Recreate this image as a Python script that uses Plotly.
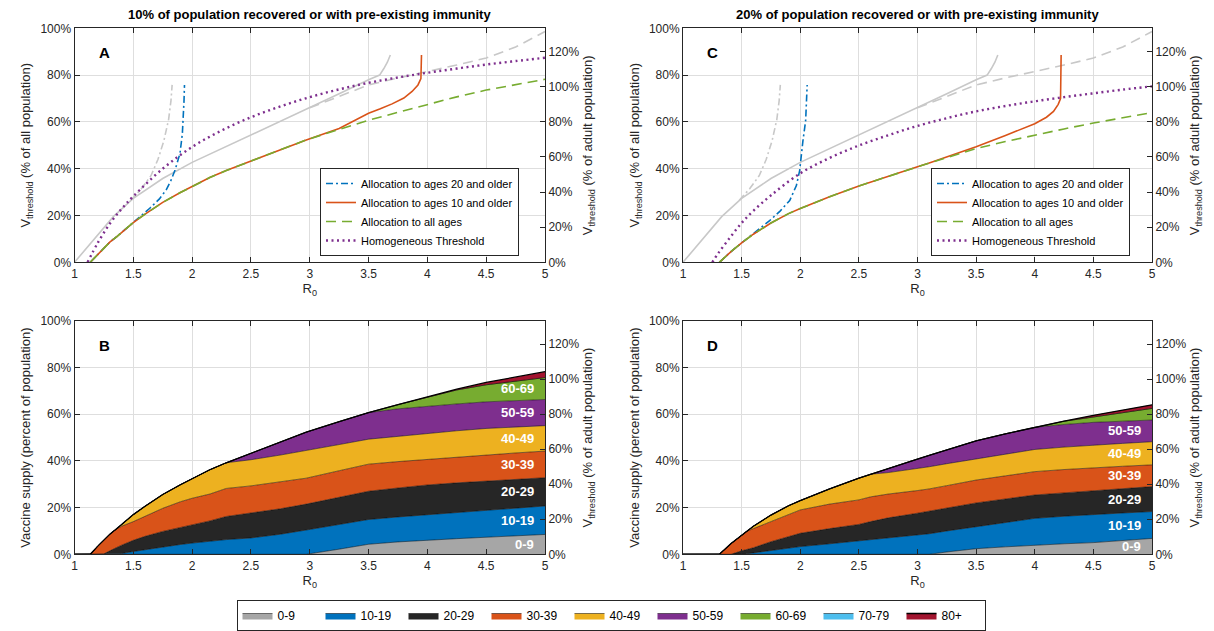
import plotly.graph_objects as go

# The page adds an 8 px body margin, so the figure is drawn 8 px smaller and
# every reference pixel position is shifted by OFF.
OFF = 8
W, H = 1214 - OFF, 631 - OFF
FONT = "Liberation Sans, Arial, Helvetica, sans-serif"
AX = "#262626"
GRID = "#dedede"
LIGHT = "#c8c8c8"

# ---------------- data ----------------
R0_TICKS = [1, 1.5, 2, 2.5, 3, 3.5, 4, 4.5, 5]
LEFT_TICKS = [0, 20, 40, 60, 80, 100]
RIGHT_TICKS = [0, 20, 40, 60, 80, 100, 120]
RIGHT_MAX = 133.3  # % of adult population that matches 100% of all population

TITLE_A = "10% of population recovered or with pre-existing immunity"
TITLE_C = "20% of population recovered or with pre-existing immunity"
AGE_GROUPS = ["0-9", "10-19", "20-29", "30-39", "40-49", "50-59", "60-69", "70-79", "80+"]
AGE_COLORS = ["#a6a6a6", "#0072bd", "#262626", "#d95319", "#edb120",
              "#7e2f8e", "#77ac30", "#4dbeee", "#a2142f"]
LABELED_B = ["0-9", "10-19", "20-29", "30-39", "40-49", "50-59", "60-69"]
LABELED_D = ["0-9", "10-19", "20-29", "30-39", "40-49", "50-59"]

# reference curves (no prior immunity), light grey, same in A and C
grey_solid_r0 = [1.0, 1.1, 1.2, 1.33, 1.5, 1.75, 2.0, 2.25, 2.5, 2.75, 3.0, 3.25, 3.5, 3.594, 3.63, 3.66, 3.685]
grey_solid_v = [0, 6.0, 11.8, 19.5, 27.3, 35.8, 42.7, 48.5, 54.5, 60.3, 66.0, 72.0, 78.0, 80.0, 82.8, 85.5, 88.6]
grey_dash_r0 = [3.0, 3.25, 3.5, 3.75, 4.0, 4.25, 4.5, 4.75, 5.0]
grey_dash_v = [66.0, 71.0, 75.8, 78.8, 81.5, 84.3, 87.3, 92.0, 98.6]
grey_dashdot_r0 = [1.48, 1.57, 1.65, 1.71, 1.76, 1.80, 1.82, 1.83]
grey_dashdot_v = [26.5, 31.5, 37.0, 44.0, 52.0, 61.0, 69.0, 75.8]

# Panel A (10% immune)
A_blue_r0 = [1.134, 1.2, 1.25, 1.3, 1.36, 1.4, 1.5, 1.55, 1.64, 1.72, 1.78, 1.82, 1.855, 1.897, 1.917, 1.931, 1.935]
A_blue_v = [0, 3.6, 6.2, 8.6, 11.0, 12.7, 17.0, 18.9, 23.1, 27.0, 31.0, 35.0, 39.4, 46.6, 55.0, 69.0, 75.8]
A_red_r0 = [1.134, 1.2, 1.25, 1.3, 1.36, 1.4, 1.5, 1.6, 1.75, 1.9, 2.0, 2.15, 2.29, 2.5, 2.75, 2.97,
            3.25, 3.5, 3.6, 3.7, 3.8, 3.87, 3.92, 3.945, 3.95]
A_red_v = [0, 3.6, 6.2, 8.6, 11.0, 12.7, 17.0, 20.6, 25.6, 29.8, 32.5, 36.2, 39.2, 43.3, 48.2, 52.3,
           57.2, 63.7, 65.6, 67.7, 70.2, 73.0, 75.8, 78.5, 88.6]
A_green_r0 = [1.134, 1.2, 1.25, 1.3, 1.36, 1.4, 1.5, 1.6, 1.75, 1.9, 2.0, 2.15, 2.29, 2.5, 2.75, 2.97,
              3.25, 3.5, 3.75, 4.0, 4.25, 4.5, 4.75, 5.0]
A_green_v = [0, 3.6, 6.2, 8.6, 11.0, 12.7, 17.0, 20.6, 25.6, 29.8, 32.5, 36.2, 39.2, 43.3, 48.2, 52.3,
             56.8, 60.7, 64.1, 67.4, 70.7, 73.6, 76.0, 78.2]
A_purple_r0 = [1.111, 1.2, 1.3, 1.4, 1.5, 1.75, 2.0, 2.25, 2.5, 2.75, 3.0, 3.25, 3.5, 3.75, 4.0, 4.25, 4.5, 4.75, 5.0]
A_purple_v = [0, 8.5, 16.5, 22.8, 28.2, 40.0, 49.3, 56.3, 62.0, 66.6, 70.6, 73.9, 76.7, 79.0, 81.0, 82.8, 84.5, 86.0, 87.4]

# Panel C (20% immune)
C_blue_r0 = [1.31, 1.41, 1.5, 1.554, 1.65, 1.739, 1.83, 1.91, 1.967, 1.995, 2.023, 2.046, 2.059]
C_blue_v = [0, 4.6, 8.3, 10.4, 14.2, 17.8, 22.0, 26.4, 32.8, 39.2, 52.0, 60.5, 75.8]
C_red_r0 = [1.31, 1.41, 1.5, 1.54, 1.6, 1.75, 1.9, 2.0, 2.25, 2.5, 2.6, 2.75, 3.0, 3.1,
            3.25, 3.5, 3.75, 4.0, 4.1, 4.16, 4.2, 4.22, 4.225]
C_red_v = [0, 4.6, 8.3, 9.8, 12.0, 16.8, 20.8, 23.0, 28.0, 32.6, 34.3, 36.8, 40.8, 42.4,
           45.0, 49.4, 54.2, 59.2, 62.0, 64.5, 67.5, 70.0, 88.6]
C_green_r0 = [1.31, 1.41, 1.5, 1.54, 1.6, 1.75, 1.9, 2.0, 2.25, 2.5, 2.6, 2.75, 3.0, 3.1,
              3.25, 3.5, 3.75, 4.0, 4.25, 4.5, 4.75, 5.0]
C_green_v = [0, 4.6, 8.3, 9.8, 12.0, 16.8, 20.8, 23.0, 28.0, 32.6, 34.3, 36.8, 40.8, 42.4,
             44.8, 48.6, 51.6, 54.4, 57.0, 59.5, 61.8, 64.0]
C_purple_r0 = [1.25, 1.3, 1.4, 1.5, 1.6, 1.75, 2.0, 2.25, 2.5, 2.75, 3.0, 3.25, 3.5, 3.75, 4.0, 4.25, 4.5, 4.75, 5.0]
C_purple_v = [0, 3.8, 10.5, 16.8, 22.0, 28.6, 38.0, 44.6, 49.9, 54.3, 58.3, 61.6, 64.5, 66.8, 68.8, 70.6, 72.2, 73.8, 75.2]

# Panel B: cumulative vaccine supply up to (and including) each age group, 10% immune
B_r0 = [1.0, 1.134, 1.2, 1.25, 1.3, 1.36, 1.4, 1.5, 1.6, 1.75, 1.9, 2.0, 2.15, 2.29, 2.5, 2.75, 2.97,
        3.25, 3.5, 3.75, 4.0, 4.25, 4.5, 4.75, 5.0]
B_upto_9 = [0, 0, 0, 0, 0, 0, 0, 0, 0, 0, 0, 0, 0, 0, 0, 0, 0,
            2.2, 4.3, 5.3, 6.1, 6.7, 7.3, 7.8, 8.5]
B_upto_19 = [0, 0, 0, 0, 0, 0, 0.3, 1.2, 2.0, 3.2, 4.2, 4.8, 5.7, 6.3, 7.0, 8.6, 10.4,
             12.8, 14.9, 16.0, 16.9, 18.0, 19.0, 19.9, 20.7]
B_upto_29 = [0, 0, 0, 0.2, 1.5, 3.0, 3.9, 6.0, 7.7, 9.8, 11.5, 12.5, 14.3, 16.2, 17.6, 19.5, 21.5,
             24.3, 27.0, 28.4, 29.7, 30.6, 31.4, 32.1, 32.8]
B_upto_39 = [0, 0, 3.6, 6.2, 8.6, 11.0, 12.0, 14.0, 16.3, 19.7, 22.5, 24.0, 25.8, 28.2, 29.3, 31.0, 32.6,
             35.8, 38.6, 39.7, 40.7, 41.6, 42.5, 43.4, 44.2]
B_upto_49 = [0, 0, 3.6, 6.2, 8.6, 11.0, 12.7, 17.0, 20.6, 25.6, 29.8, 32.5, 36.2, 39.2, 40.5, 42.5, 44.6,
             47.0, 49.3, 50.6, 51.8, 52.9, 53.9, 54.5, 55.1]
B_upto_59 = [0, 0, 3.6, 6.2, 8.6, 11.0, 12.7, 17.0, 20.6, 25.6, 29.8, 32.5, 36.2, 39.2, 43.3, 48.2, 52.3,
             56.8, 60.7, 62.3, 63.5, 64.4, 65.3, 65.8, 66.3]
B_upto_69 = [0, 0, 3.6, 6.2, 8.6, 11.0, 12.7, 17.0, 20.6, 25.6, 29.8, 32.5, 36.2, 39.2, 43.3, 48.2, 52.3,
             56.8, 60.7, 64.1, 67.4, 70.4, 72.6, 74.2, 75.7]
B_upto_79 = list(B_upto_69)
B_total = [0, 0, 3.6, 6.2, 8.6, 11.0, 12.7, 17.0, 20.6, 25.6, 29.8, 32.5, 36.2, 39.2, 43.3, 48.2, 52.3,
           56.8, 60.7, 64.1, 67.4, 70.7, 73.6, 76.0, 78.2]

# Panel D: cumulative vaccine supply, 20% immune
D_r0 = [1.0, 1.31, 1.41, 1.5, 1.54, 1.6, 1.75, 1.9, 2.0, 2.25, 2.5, 2.6, 2.75, 3.0, 3.1,
        3.25, 3.5, 3.75, 4.0, 4.25, 4.5, 4.75, 5.0]
D_upto_9 = [0, 0, 0, 0, 0, 0, 0, 0, 0, 0, 0, 0, 0, 0, 0,
            1.0, 2.4, 3.2, 4.0, 4.5, 5.0, 5.9, 6.8]
D_upto_19 = [0, 0, 0, 0, 0.2, 0.6, 1.6, 2.6, 3.3, 4.5, 5.7, 6.4, 7.2, 8.2, 8.8,
             10.0, 11.8, 13.6, 15.4, 16.3, 17.1, 17.7, 18.3]
D_upto_29 = [0, 0, 0, 1.5, 1.9, 2.8, 5.4, 7.7, 9.0, 11.0, 12.8, 14.0, 15.6, 17.6, 18.5,
             19.8, 22.0, 23.7, 25.4, 26.3, 27.1, 28.0, 29.0]
D_upto_39 = [0, 0, 4.6, 8.3, 9.8, 11.0, 14.0, 17.3, 19.0, 21.5, 23.3, 24.6, 25.8, 27.3, 28.0,
             29.4, 31.8, 33.6, 35.4, 36.3, 37.1, 37.7, 38.3]
D_upto_49 = [0, 0, 4.6, 8.3, 9.8, 12.0, 16.8, 20.8, 23.0, 28.0, 32.6, 34.3, 35.0, 36.6, 37.5,
             38.8, 40.8, 42.9, 44.9, 45.9, 46.8, 47.5, 48.2]
D_upto_59 = [0, 0, 4.6, 8.3, 9.8, 12.0, 16.8, 20.8, 23.0, 28.0, 32.6, 34.3, 36.8, 40.8, 42.4,
             44.8, 48.6, 51.6, 54.4, 55.6, 56.5, 57.0, 57.5]
D_upto_69 = [0, 0, 4.6, 8.3, 9.8, 12.0, 16.8, 20.8, 23.0, 28.0, 32.6, 34.3, 36.8, 40.8, 42.4,
             44.8, 48.6, 51.6, 54.4, 57.0, 58.8, 60.8, 62.5]
D_upto_79 = list(D_upto_69)
D_total = [0, 0, 4.6, 8.3, 9.8, 12.0, 16.8, 20.8, 23.0, 28.0, 32.6, 34.3, 36.8, 40.8, 42.4,
           44.8, 48.6, 51.6, 54.4, 57.0, 59.5, 61.8, 64.0]

B_CUM = [B_upto_9, B_upto_19, B_upto_29, B_upto_39, B_upto_49, B_upto_59, B_upto_69, B_upto_79, B_total]
D_CUM = [D_upto_9, D_upto_19, D_upto_29, D_upto_39, D_upto_49, D_upto_59, D_upto_69, D_upto_79, D_total]

# ---------------- layout geometry (reference pixels) ----------------
def px_x(a):
    return (a - OFF) / W

def px_y(b):
    return 1 - (b - OFF) / H

def xdom(a, b):
    return [px_x(a), px_x(b)]

def ydom(top, bottom):
    return [px_y(bottom), px_y(top)]

LEFT_X = xdom(74.5, 545)
RIGHT_X = xdom(683, 1152)
TOP_Y = ydom(28.3, 262.3)
BOT_Y = ydom(320.8, 554.3)

fig = go.Figure()

SERIES_STYLE = {
    "blue": dict(color="#0072bd", width=1.6, dash="7px,3px,2px,3px"),
    "red": dict(color="#d95319", width=1.6),
    "green": dict(color="#77ac30", width=1.6, dash="10px,6px"),
    "purple": dict(color="#7e2f8e", width=2.4, dash="2px,3.5px"),
}
SERIES_NAME = {
    "blue": "Allocation to ages 20 and older",
    "red": "Allocation to ages 10 and older",
    "green": "Allocation to all ages",
    "purple": "Homogeneous Threshold",
}


def add_threshold_panel(xa, ya, legend, series):
    fig.add_trace(go.Scatter(x=grey_solid_r0, y=grey_solid_v, mode="lines", xaxis=xa, yaxis=ya,
                             line=dict(color=LIGHT, width=1.6), showlegend=False, hoverinfo="skip"))
    fig.add_trace(go.Scatter(x=grey_dash_r0, y=grey_dash_v, mode="lines", xaxis=xa, yaxis=ya,
                             line=dict(color=LIGHT, width=1.6, dash="10px,6px"), showlegend=False,
                             hoverinfo="skip"))
    fig.add_trace(go.Scatter(x=grey_dashdot_r0, y=grey_dashdot_v, mode="lines", xaxis=xa, yaxis=ya,
                             line=dict(color=LIGHT, width=1.6, dash="7px,3px,2px,3px"), showlegend=False,
                             hoverinfo="skip"))
    for key in ["blue", "red", "green", "purple"]:
        r0, v = series[key]
        fig.add_trace(go.Scatter(x=r0, y=v, mode="lines", xaxis=xa, yaxis=ya, name=SERIES_NAME[key],
                                 line=SERIES_STYLE[key], legend=legend,
                                 line_shape="spline" if key == "purple" else "linear"))


add_threshold_panel("x", "y", "legend", {
    "blue": (A_blue_r0, A_blue_v), "red": (A_red_r0, A_red_v),
    "green": (A_green_r0, A_green_v), "purple": (A_purple_r0, A_purple_v)})
add_threshold_panel("x2", "y3", "legend2", {
    "blue": (C_blue_r0, C_blue_v), "red": (C_red_r0, C_red_v),
    "green": (C_green_r0, C_green_v), "purple": (C_purple_r0, C_purple_v)})


def add_area_panel(xa, ya, r0, cum, show):
    for i, (grp, col) in enumerate(zip(AGE_GROUPS, AGE_COLORS)):
        last = i == len(AGE_GROUPS) - 1
        fig.add_trace(go.Scatter(
            x=r0, y=cum[i], mode="lines", xaxis=xa, yaxis=ya, name=grp,
            fill="tozeroy" if i == 0 else "tonexty", fillcolor=col,
            line=dict(color="#000000", width=1.3 if last else 0.5),
            legend="legend3", showlegend=show, hoverinfo="skip"))


add_area_panel("x3", "y5", B_r0, B_CUM, True)
add_area_panel("x4", "y7", D_r0, D_CUM, False)

# empty traces that register the right-hand (adult population) axes so they are drawn
for xa, ya in [("x", "y2"), ("x2", "y4"), ("x3", "y6"), ("x4", "y8")]:
    fig.add_trace(go.Scatter(x=[], y=[], xaxis=xa, yaxis=ya, showlegend=False, hoverinfo="skip"))

# ---------------- axes ----------------
def pct(v):
    return f"{v}%"


TICKFONT = dict(family=FONT, size=12, color=AX)
TITLEFONT = dict(family=FONT, size=13, color=AX)


def xaxis(domain, anchor):
    return dict(domain=domain, anchor=anchor, range=[1, 5], tickvals=R0_TICKS,
                ticktext=[f"{t:g}" for t in R0_TICKS], ticks="inside", ticklen=5, tickcolor=AX,
                showline=True, linecolor=AX, linewidth=1, mirror="ticks", showgrid=True,
                gridcolor=GRID, gridwidth=1, zeroline=False, tickfont=TICKFONT,
                title=dict(text="R<sub>0</sub>", font=TITLEFONT, standoff=4))


def yleft(domain, anchor, title):
    return dict(domain=domain, anchor=anchor, range=[0, 100], tickvals=LEFT_TICKS,
                ticktext=[pct(t) for t in LEFT_TICKS], ticks="inside", ticklen=5, tickcolor=AX,
                showline=True, linecolor=AX, linewidth=1, mirror=False, showgrid=True,
                gridcolor=GRID, gridwidth=1, zeroline=False, tickfont=TICKFONT,
                title=dict(text=title, font=TITLEFONT, standoff=6))


def yright(overlay, anchor):
    return dict(overlaying=overlay, anchor=anchor, side="right", range=[0, RIGHT_MAX],
                tickvals=RIGHT_TICKS, ticktext=[pct(t) for t in RIGHT_TICKS], ticks="inside",
                ticklen=5, tickcolor=AX, showline=True, linecolor=AX, linewidth=1, showgrid=False,
                zeroline=False, tickfont=TICKFONT,
                title=dict(text="V<sub>threshold</sub> (% of adult population)", font=TITLEFONT, standoff=4))


V_ALL = "V<sub>threshold</sub> (% of all population)"
V_SUP = "Vaccine supply (percent of population)"

fig.update_layout(
    xaxis=xaxis(LEFT_X, "y"), yaxis=yleft(TOP_Y, "x", V_ALL), yaxis2=yright("y", "x"),
    xaxis2=xaxis(RIGHT_X, "y3"), yaxis3=yleft(TOP_Y, "x2", V_ALL), yaxis4=yright("y3", "x2"),
    xaxis3=xaxis(LEFT_X, "y5"), yaxis5=yleft(BOT_Y, "x3", V_SUP), yaxis6=yright("y5", "x3"),
    xaxis4=xaxis(RIGHT_X, "y7"), yaxis7=yleft(BOT_Y, "x4", V_SUP), yaxis8=yright("y7", "x4"),
)

LEG_COMMON = dict(bgcolor="white", bordercolor=AX, borderwidth=1,
                  font=dict(family=FONT, size=11, color="#000000"), tracegroupgap=0,
                  traceorder="normal")
fig.update_layout(
    legend=dict(x=px_x(320), y=px_y(256), xanchor="left", yanchor="bottom", **LEG_COMMON),
    legend2=dict(x=px_x(931), y=px_y(256), xanchor="left", yanchor="bottom", **LEG_COMMON),
    legend3=dict(x=px_x(611), y=0, xanchor="center", yanchor="bottom", orientation="h",
                 bgcolor="white", bordercolor=AX, borderwidth=1, traceorder="normal",
                 font=dict(family=FONT, size=12, color="#000000"), entrywidth=38),
)

# ---------------- annotations ----------------
ann = []
for text, dom in [(TITLE_A, LEFT_X), (TITLE_C, RIGHT_X)]:
    ann.append(dict(text=f"<b>{text}</b>", x=(dom[0] + dom[1]) / 2, y=px_y(14), xref="paper",
                    yref="paper", showarrow=False, xanchor="center", yanchor="middle",
                    font=dict(family=FONT, size=13, color="#000000")))
for letter, xr, yr in [("A", "x", "y"), ("C", "x2", "y3"), ("B", "x3", "y5"), ("D", "x4", "y7")]:
    ann.append(dict(text=f"<b>{letter}</b>", x=0.063, y=0.896, xref=f"{xr} domain",
                    yref=f"{yr} domain", showarrow=False, xanchor="center", yanchor="middle",
                    font=dict(family=FONT, size=15, color="#000000")))

for xr, yr, cum, labeled in [("x3", "y5", B_CUM, LABELED_B), ("x4", "y7", D_CUM, LABELED_D)]:
    for grp in labeled:
        i = AGE_GROUPS.index(grp)
        lower = cum[i - 1][-1] if i > 0 else 0
        mid = (lower + cum[i][-1]) / 2
        ann.append(dict(text=f"<b>{grp}</b>", x=5, y=mid, xref=xr, yref=yr, showarrow=False,
                        xanchor="right", yanchor="middle", xshift=-9,
                        font=dict(family=FONT, size=13, color="#ffffff")))

fig.update_layout(
    annotations=ann,
    width=W, height=H,
    margin=dict(l=0, r=0, t=0, b=0, autoexpand=False),
    paper_bgcolor="white", plot_bgcolor="white",
    font=dict(family=FONT, color=AX),
    showlegend=True,
)

fig.write_html("out.html")
